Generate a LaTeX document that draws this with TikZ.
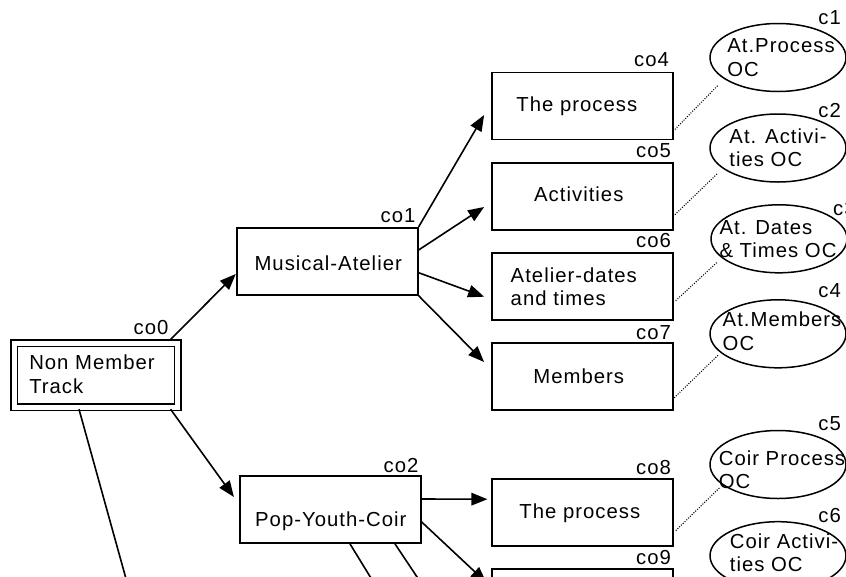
\documentclass[tikz,border=0pt]{standalone}
\usepackage{fontspec}
\setmainfont{Liberation Sans}[LetterSpace=5]
\usetikzlibrary{arrows.meta,calc,shapes.geometric}

\tikzset{
  every node/.style={font=\fontsize{20.3pt}{23.3pt}\selectfont, inner sep=0pt},
  box/.style={draw, line width=1.8pt, minimum width=181pt, minimum height=67pt},
  trackbox/.style={draw, line width=1.6pt, double, double distance=4.8pt,
                   minimum width=163.5pt, minimum height=64.2pt},
  oc/.style={draw, ellipse, line width=1.5pt, minimum width=136pt, minimum height=68pt},
  txt/.style={align=left},
  tag/.style={anchor=base east},
  arr/.style={line width=1.6pt, -{Triangle[length=16pt,width=12.5pt]}},
  link/.style={line width=1.1pt, dash pattern=on 1pt off 1.5pt},
}

\begin{document}
\begin{tikzpicture}[x=1pt,y=-1pt]
\useasboundingbox (0,0) rectangle (846,576);
\clip (0,0) rectangle (846,576);

% root and second-level boxes
\node[trackbox] (co0) at (96,375.3) {};
\node[box] (co1) at (327.2,261.3) {};
\node[box] (co2) at (330.3,509.5) {};

% third-level boxes
\node[box] (co4) at (582.8,106) {};
\node[box] (co5) at (582.8,196.3) {};
\node[box] (co6) at (582.8,286.3) {};
\node[box] (co7) at (582.8,376.7) {};
\node[box] (co8) at (582.8,512.2) {};
\node[box] (co9) at (582.8,602.6) {};

% object classes
\node[oc] (c1) at (778,57.5) {};
\node[oc] (c2) at (778,148) {};
\node[oc] (c3) at (779,238.8) {};
\node[oc] (c4) at (778,333.8) {};
\node[oc] (c5) at (778,464.5) {};
\node[oc] (c6) at (778,555.7) {};

% box texts
\node[txt] (co0-text) at ($(co0)+(-4,-1)$) {Non Member\\Track};
\node[anchor=base] (co1-text) at ($(co1)+(1,8.7)$) {Musical-Atelier};
\node[anchor=base] (co2-text) at ($(co2)+(0.5,17.2)$) {Pop-Youth-Coir};
\node[anchor=base] (co4-text) at ($(co4)+(-6,5.7)$) {The process};
\node[anchor=base] (co5-text) at ($(co5)+(-4,5.4)$) {Activities};
\node[txt] (co6-text) at ($(co6)+(-9,0.7)$) {Atelier-dates\\and times};
\node[anchor=base] (co7-text) at ($(co7)+(-4,6.6)$) {Members};
\node[anchor=base] (co8-text) at ($(co8)+(-3,6.1)$) {The process};

% object class texts
\node[txt] (c1-text) at ($(c1)+(3,0)$) {At.Process\\OC};
\node[txt] (c2-text) at ($(c2)+(0,0)$) {At. Activi-\\ties OC};
\node[txt] (c3-text) at ($(c3)+(-1,0)$) {At. Dates\\\& Times OC};
\node[txt] (c4-text) at ($(c4)+(4,-2.6)$) {At.Members\\OC};
\node[txt] (c5-text) at ($(c5)+(4,5)$) {Coir Process\\OC};
\node[txt] (c6-text) at ($(c6)+(6,-3)$) {Coir Activi-\\ties OC};

% identifiers
\node[tag] (co0-tag) at ($(co0.north east)+(-10,-8.25)$) {co0};
\node[tag] (co1-tag) at ($(co1.north east)+(-3,-4)$) {co1};
\node[tag] (co2-tag) at ($(co2.north east)+(-3,-3)$) {co2};
\node[tag] (co4-tag) at ($(co4.north east)+(-5,-5)$) {co4};
\node[tag] (co5-tag) at ($(co5.north east)+(-3,-4)$) {co5};
\node[tag] (co6-tag) at ($(co6.north east)+(-3,-4)$) {co6};
\node[tag] (co7-tag) at ($(co7.north east)+(-3,-3.3)$) {co7};
\node[tag] (co8-tag) at ($(co8.north east)+(-3,-3.3)$) {co8};
\node[tag] (co9-tag) at ($(co9.north east)+(-3,-3.3)$) {co9};
\node[tag] (c1-tag) at ($(c1.north)+(63,2)$) {c1};
\node[tag] (c2-tag) at ($(c2.north)+(63,4)$) {c2};
\node[anchor=base west] (c3-tag) at ($(c3.north)+(54,11)$) {c3};
\node[tag] (c4-tag) at ($(c4.north)+(63,-1.5)$) {c4};
\node[tag] (c5-tag) at ($(c5.north)+(63,1)$) {c5};
\node[tag] (c6-tag) at ($(c6.north)+(63,1.6)$) {c6};

% branches leaving the picture
\coordinate (co3) at (143,640);
\coordinate (co10) at (409,640);
\coordinate (co11) at (459,640);

% hierarchy arrows
\draw[arr] ($(co0.north east)+(-8,-3)$) -- ($(co1.west)+(0,12.7)$);
\draw[arr] ($(co0.south east)+(-8,1)$) -- ($(co2.west)+(-5,-12.5)$);
\draw[arr] ($(co0.south)+(-17,1)$) -- (co3);

\draw[arr] (co1.north east) -- ($(co4.west)+(-7.3,9)$);
\draw[arr] ($(co1.east)+(0,-11.3)$) -- ($(co5.west)+(-7.3,10.7)$);
\draw[arr] ($(co1.east)+(0,11.4)$) -- ($(co6.west)+(-7.3,10.4)$);
\draw[arr] (co1.south east) -- ($(co7.west)+(-7.3,-14.7)$);

\draw[arr] ($(co2.east)+(0,-10.5)$) -- ($(co8.west)+(-4,-13)$);
\draw[arr] ($(co2.east)+(0,12.5)$) -- ($(co9.west)+(-5,-20)$);
\draw[arr] ($(co2.south)+(19.7,0)$) -- (co10);
\draw[arr] ($(co2.south)+(64.7,0)$) -- (co11);

% links to object classes
\draw[link] ($(co4.south east)+(0.7,-11)$) -- ($(c1)+(-59.7,27.5)$);
\draw[link] ($(co5.south east)+(0.7,-16)$) -- ($(c2)+(-60.3,25.3)$);
\draw[link] ($(co6.south east)+(1.5,-20)$) -- ($(c3)+(-61.3,22.9)$);
\draw[link] ($(co7.south east)+(0,-13.3)$) -- ($(c4)+(-59.7,21.2)$);
\draw[link] ($(co8.south east)+(1.5,-16)$) -- ($(c5)+(-58,22.8)$);
\end{tikzpicture}
\end{document}
